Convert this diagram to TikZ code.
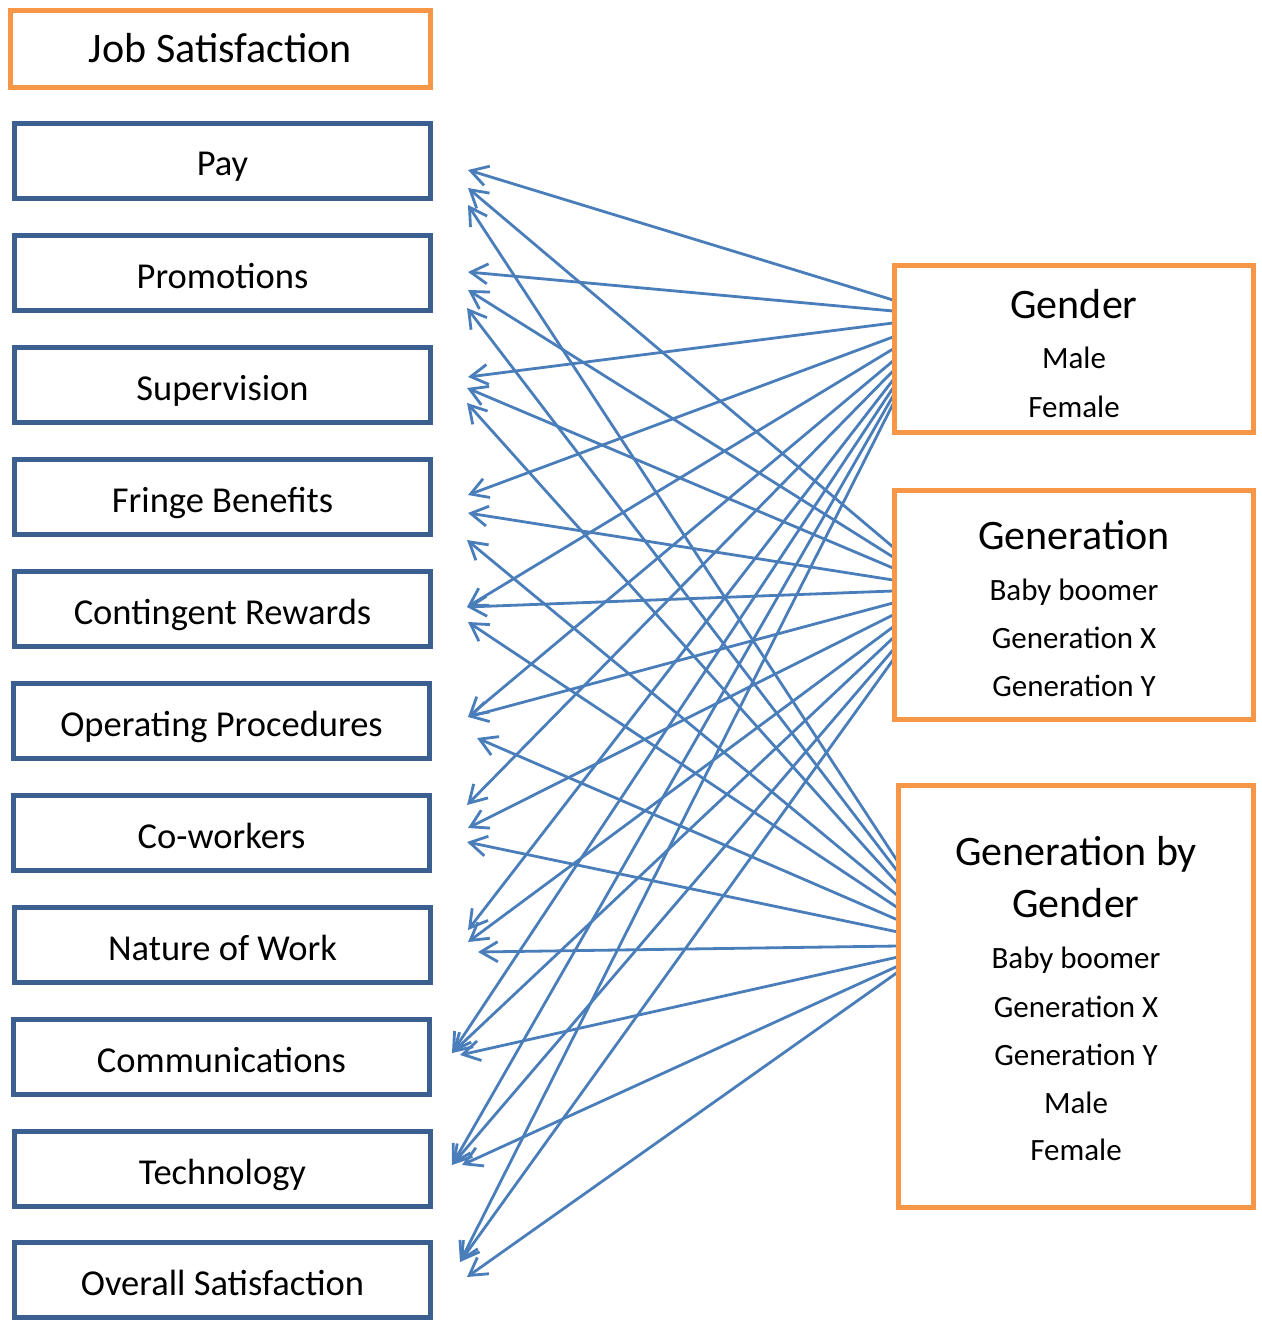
\documentclass[tikz,border=0pt]{standalone}
\usepackage{fontspec}
\setmainfont{Carlito}
\usetikzlibrary{arrows.meta}

\definecolor{boxblue}{HTML}{3B6090}
\definecolor{boxorange}{HTML}{F79646}
\definecolor{linkblue}{HTML}{4A7EBB}

\tikzset{
  factor/.style={draw=boxblue, line width=4.6pt, minimum width=416pt, minimum height=75pt,
    inner sep=0pt, text height=30pt, text depth=0pt, font=\fontsize{36.5}{44}\selectfont},
  title/.style={factor, draw=boxorange, minimum width=420pt, minimum height=77pt,
    text height=28pt, font=\fontsize{42}{50}\selectfont},
  group/.style={draw=boxorange, line width=4.6pt, inner sep=0pt},
  head/.style={anchor=base, font=\fontsize{42}{50}\selectfont},
  item/.style={anchor=base, font=\fontsize{31}{37}\selectfont},
  link/.style={draw=linkblue, line width=2.8pt, line cap=round,
    -{Straight Barb[length=17pt,width=20pt]}}
}

\begin{document}
\begin{tikzpicture}[x=1pt,y=-1pt]
  \useasboundingbox (0,0) rectangle (1261,1321);

  % Gender -> facets
  \foreach \sy/\tx/\ty [count=\i] in {300/468/170, 311/468/272, 323/468/377, 337/468/495,
      349/467/607, 361/468/717, 371/467/805, 380/468/930, 388/452/1053, 396/452/1165, 404/460/1262} {
    \coordinate (gs\i) at (893,\sy);
    \coordinate (gt\i) at (\tx,\ty);
    \draw[link] (gs\i) -- (gt\i);
  }
  % Generation -> facets
  \foreach \sy/\tx/\ty [count=\i] in {547/468/188, 557/468/290, 568/467/388, 580/468/513,
      591/467/607, 603/468/717, 615/468/828, 627/468/942, 638/452/1053, 650/452/1165, 660/460/1262} {
    \coordinate (ns\i) at (893,\sy);
    \coordinate (nt\i) at (\tx,\ty);
    \draw[link] (ns\i) -- (nt\i);
  }
  % Generation by Gender -> facets
  \foreach \sy/\tx/\ty [count=\i] in {862/468/205, 872/467/308, 884/467/403, 896/467/540,
      908/468/622, 920/477/738, 932/467/842, 946/478/952, 957/460/1055, 966/462/1165, 972/467/1277} {
    \coordinate (bs\i) at (898,\sy);
    \coordinate (bt\i) at (\tx,\ty);
    \draw[link] (bs\i) -- (bt\i);
  }

  % Left column
  \node[title] (job) at (220.5,49) {Job Satisfaction};
  \node[factor] (pay) at (222.5,161) {Pay};
  \node[factor] (promo) at (222.5,273) {Promotions};
  \node[factor] (superv) at (222.5,385) {Supervision};
  \node[factor] (fringe) at (222.5,497) {Fringe Benefits};
  \node[factor] (reward) at (222.5,609) {Contingent Rewards};
  \node[factor] (proced) at (221.5,721) {Operating Procedures};
  \node[factor] (cowork) at (221.5,833) {Co-workers};
  \node[factor] (nature) at (222.5,945) {Nature of Work};
  \node[factor] (comm) at (221.5,1057) {Communications};
  \node[factor] (tech) at (222.5,1169) {Technology};
  \node[factor] (overall) at (222.5,1280) {Overall Satisfaction};

  % Gender box
  \node[group, minimum width=359pt, minimum height=167pt] (gender) at (1074,349) {};
  \node[head] (gtitle) at (1074,318) {Gender};
  \node[item] (gmale) at (1074,368) {Male};
  \node[item] (gfemale) at (1074,417) {Female};

  % Generation box
  \node[group, minimum width=359pt, minimum height=229pt] (gen) at (1074,605) {};
  \node[head] (ntitle) at (1074,549) {Generation};
  \node[item] (nboom) at (1074,600) {Baby boomer};
  \node[item] (nx) at (1074,648) {Generation X};
  \node[item] (ny) at (1074,696) {Generation Y};

  % Generation by Gender box
  \node[group, minimum width=355pt, minimum height=422pt] (genbygender) at (1076,996.5) {};
  \node[head] (btitle) at (1076,865) {Generation by};
  \node[head] (btitleb) at (1076,917) {Gender};
  \node[item] (bboom) at (1076,968) {Baby boomer};
  \node[item] (bx) at (1076,1017) {Generation X};
  \node[item] (by) at (1076,1065) {Generation Y};
  \node[item] (bmale) at (1076,1113) {Male};
  \node[item] (bfemale) at (1076,1160) {Female};
\end{tikzpicture}
\end{document}
